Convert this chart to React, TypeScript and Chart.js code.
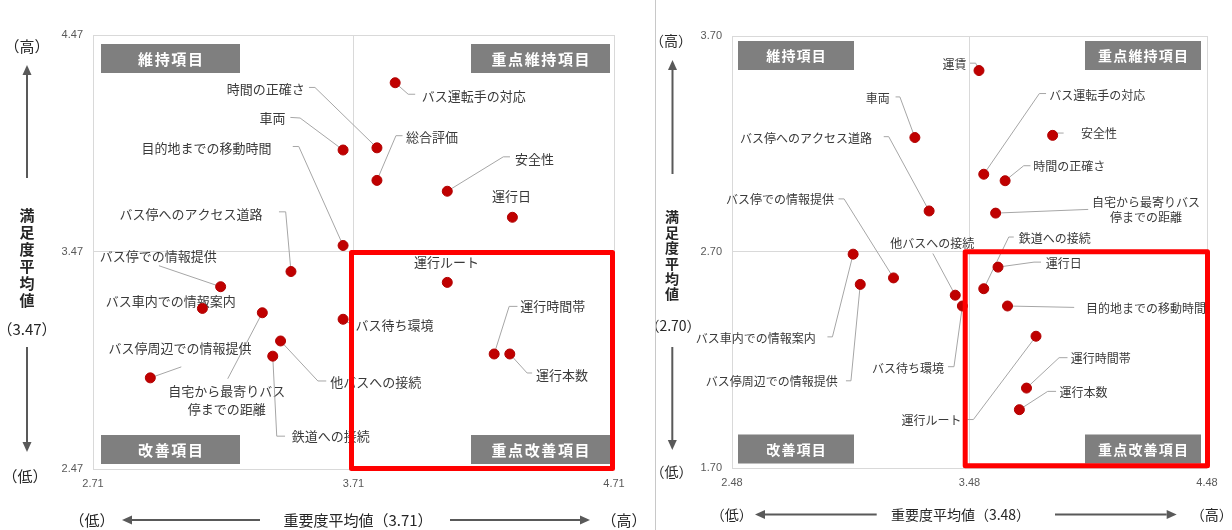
import { useEffect, useRef } from 'react';
import { Chart, registerables } from 'chart.js';

Chart.register(...registerables);

// ---------------- Data: left chart ----------------
const leftItems = [
  'バス運転手の対応', '時間の正確さ', '車両', '目的地までの移動時間', 'バス停へのアクセス道路',
  'バス停での情報提供', 'バス車内での情報案内', '自宅から最寄りバス停までの距離', '他バスへの接続',
  '鉄道への接続', 'バス停周辺での情報提供', '総合評価', '安全性', '運行日', '運行ルート',
  'バス待ち環境', '運行時間帯', '運行本数',
];
const leftImportance = [3.87, 3.80, 3.67, 3.67, 3.47, 3.20, 3.13, 3.36, 3.43, 3.40, 2.93, 3.80, 4.07, 4.32, 4.07, 3.67, 4.25, 4.31];
const leftSatisfaction = [4.25, 3.95, 3.94, 3.50, 3.38, 3.31, 3.21, 3.19, 3.06, 2.99, 2.89, 3.80, 3.75, 3.63, 3.33, 3.16, 3.00, 3.00];
const leftXTicks = [2.71, 3.71, 4.71];
const leftYTicks = [2.47, 3.47, 4.47];

// ---------------- Data: right chart ----------------
const rightItems = [
  '運賃', '車両', 'バス停へのアクセス道路', 'バス停での情報提供', '他バスへの接続',
  'バス車内での情報案内', 'バス停周辺での情報提供', 'バス待ち環境', '運行ルート', 'バス運転手の対応',
  '安全性', '時間の正確さ', '自宅から最寄りバス停までの距離', '鉄道への接続', '運行日',
  '目的地までの移動時間', '運行時間帯', '運行本数',
];
const rightImportance = [3.52, 3.25, 3.31, 3.16, 3.42, 2.99, 3.02, 3.45, 3.76, 3.54, 3.83, 3.63, 3.59, 3.54, 3.60, 3.64, 3.72, 3.69];
const rightSatisfaction = [3.54, 3.23, 2.89, 2.58, 2.50, 2.69, 2.55, 2.45, 2.31, 3.06, 3.24, 3.03, 2.88, 2.53, 2.63, 2.45, 2.07, 1.97];
const rightXTicks = [2.48, 3.48, 4.48];
const rightYTicks = [1.70, 2.70, 3.70];

const quadrantNames = ['維持項目', '重点維持項目', '改善項目', '重点改善項目'];
const axisTitleX = '重要度平均値';
const axisTitleY = '満足度平均値';
const highText = '（高）';
const lowText = '（低）';

// ---------------- Label layout (pixel offsets from each point) ----------------
type LabelLayout = { dx: number; dy: number; align: CanvasTextAlign; path: number[][]; wrap?: number };

const leftLabelLayout: LabelLayout[] = [
  { dx: 26.5, dy: 13.3, align: 'left', path: [[20, 11.5], [13, 11.5]] },
  { dx: -72.3, dy: -58.7, align: 'right', path: [[-68, -60.4], [-62, -60.4]] },
  { dx: -57.7, dy: -31.6, align: 'right', path: [[-52.7, -32.6], [-43, -32]] },
  { dx: -71.6, dy: -97.4, align: 'right', path: [[-50.3, -99], [-44.3, -99]] },
  { dx: -28.6, dy: -57.4, align: 'right', path: [[-12, -59.7], [-5.3, -59.7]] },
  { dx: -121, dy: -31, align: 'left', path: [[-61.7, -21]] },
  { dx: -96.6, dy: -7, align: 'left', path: [] },
  { dx: -35.6, dy: 78.4, align: 'center', path: [[-34.6, 66]], wrap: 9 },
  { dx: 49.7, dy: 40.6, align: 'left', path: [[45.7, 40], [37.3, 40]] },
  { dx: 19, dy: 80, align: 'left', path: [[12.3, 80], [4, 80]] },
  { dx: -41.7, dy: -29.3, align: 'left', path: [[31, -11]] },
  { dx: 29, dy: -43.4, align: 'left', path: [[25.6, -44.7], [19, -44.7]] },
  { dx: 67.7, dy: -32.4, align: 'left', path: [[62.7, -34.4], [56, -34.4]] },
  { dx: -0.8, dy: -21, align: 'center', path: [] },
  { dx: -0.7, dy: -20, align: 'center', path: [] },
  { dx: 12.3, dy: 6, align: 'left', path: [[9, 4], [4, 3]] },
  { dx: 26, dy: -47.6, align: 'left', path: [[23.3, -47.6], [15, -47.6]] },
  { dx: 26.3, dy: 20.7, align: 'left', path: [[22.3, 19], [17.3, 19]] },
];

const rightLabelLayout: LabelLayout[] = [
  { dx: -12.6, dy: -5.7, align: 'right', path: [[-9, -7.4], [-3.3, -7.4]] },
  { dx: -25, dy: -39, align: 'right', path: [[-19.3, -40.6], [-15, -40.6]] },
  { dx: -57, dy: -73, align: 'right', path: [[-45.4, -74.3], [-40.4, -74.3]] },
  { dx: -59.4, dy: -78.3, align: 'right', path: [[-55, -79], [-49.4, -79]] },
  { dx: -65, dy: -51.7, align: 'left', path: [[-22.4, -41.7]] },
  { dx: -37.3, dy: 84.3, align: 'right', path: [[-25.7, 82.7], [-20.7, 82.7]] },
  { dx: -22.6, dy: 97.4, align: 'right', path: [[-14.3, 96.4], [-9.3, 96.4]] },
  { dx: -18.4, dy: 62.3, align: 'right', path: [[-14.4, 60.7], [-8.4, 60.7]] },
  { dx: -74.6, dy: 84, align: 'right', path: [[-68.6, 83.3], [-62.6, 83.3]] },
  { dx: 65.6, dy: -79, align: 'left', path: [[62.3, -80.7], [55.6, -80.7]] },
  { dx: 28.4, dy: -1.7, align: 'left', path: [[11, -2.3], [4.4, -2.3]] },
  { dx: 28, dy: -14, align: 'left', path: [[25.3, -15], [18.6, -15]] },
  { dx: 150.3, dy: -11, align: 'center', path: [[92.6, -3.7]], wrap: 9 },
  { dx: 35, dy: -50.7, align: 'left', path: [[30, -51.7], [25, -51.7]] },
  { dx: 47.7, dy: -3.7, align: 'left', path: [[43, -5], [36, -5]] },
  { dx: 78.4, dy: 2, align: 'left', path: [[66.7, 1.4]] },
  { dx: 44.3, dy: -29.4, align: 'left', path: [[41, -30.4], [32.6, -30.4]] },
  { dx: 40, dy: -17.3, align: 'left', path: [[36.7, -18.3], [28.3, -18.3]] },
];

// ---------------- Styles / layout ----------------
const CJK = '"Noto Sans CJK JP", "Noto Sans", sans-serif';
const NUM = '"Liberation Sans", Arial, sans-serif';
const POINT_COLOR = '#c00000';
const LEADER_COLOR = '#a6a6a6';
const LABEL_COLOR = '#3a3a3a';
const GRID_COLOR = '#d9d9d9';
const BOX_COLOR = '#7f7f7f';
const TITLE_COLOR = '#262626';
const ARROW_COLOR = '#595959';

type ChartCfg = {
  items: string[];
  xs: number[];
  ys: number[];
  xTicks: number[];
  yTicks: number[];
  layout: LabelLayout[];
  width: number;
  height: number;
  left: number;
  padding: { left: number; right: number; top: number; bottom: number };
  labelSize: number;
  lineGap: number;
  box: { w: number; h: number; inL: number; inR: number; inT: number; inB: number; font: number; spacing: number };
  red: { l: number; r: number; t: number; b: number };
  t: {
    size: number; vsize: number;
    yHigh: number[]; yArrowUp: number[]; vTitle: number[]; yMean: number[]; yArrowDown: number[]; yLow: number[];
    xLow: number[]; xArrowLeft: number[]; xTitle: number[]; xArrowRight: number[]; xHigh: number[];
  };
};

const leftCfg: ChartCfg = {
  items: leftItems, xs: leftImportance, ys: leftSatisfaction, xTicks: leftXTicks, yTicks: leftYTicks,
  layout: leftLabelLayout, width: 650, height: 530, left: 0,
  padding: { left: 53, right: 36, top: 35, bottom: 31 },
  labelSize: 13, lineGap: 17.6,
  box: { w: 139, h: 29, inL: 8, inR: 4, inT: 9, inB: 5, font: 15, spacing: 1.6 },
  red: { l: -2, r: -1.5, t: 0.5, b: -0.5 },
  t: {
    size: 15, vsize: 15,
    yHigh: [27, 46], yArrowUp: [27, 178, 65], vTitle: [27, 215, 17], yMean: [27, 329], yArrowDown: [27, 347, 452], yLow: [25, 476],
    xLow: [92, 520], xArrowLeft: [260, 122, 520], xTitle: [358, 520], xArrowRight: [450, 590, 520], xHigh: [624, 520],
  },
};

const rightCfg: ChartCfg = {
  items: rightItems, xs: rightImportance, ys: rightSatisfaction, xTicks: rightXTicks, yTicks: rightYTicks,
  layout: rightLabelLayout, width: 576, height: 530, left: 656,
  padding: { left: 36, right: 25, top: 36, bottom: 32 },
  labelSize: 12, lineGap: 15.6,
  box: { w: 116, h: 29, inL: 6, inR: 6, inT: 5, inB: 4.5, font: 14, spacing: 1.2 },
  red: { l: -4.3, r: 0.5, t: -0.2, b: -2.2 },
  t: {
    size: 14, vsize: 14,
    yHigh: [15, 41], yArrowUp: [16.5, 174, 60], vTitle: [16, 217, 15.4], yMean: [17, 326], yArrowDown: [16.3, 347, 450], yLow: [15.5, 472],
    xLow: [75.7, 514.5], xArrowLeft: [220.7, 99, 514.5], xTitle: [304.5, 514.5], xArrowRight: [399, 520.7, 514.5], xHigh: [555.7, 514.5],
  },
};

function drawArrow(ctx: CanvasRenderingContext2D, x1: number, y1: number, x2: number, y2: number) {
  const ang = Math.atan2(y2 - y1, x2 - x1);
  const hl = 10, hw = 4.5;
  const c = Math.cos(ang), s = Math.sin(ang);
  ctx.save();
  ctx.strokeStyle = ARROW_COLOR;
  ctx.fillStyle = ARROW_COLOR;
  ctx.lineWidth = 2;
  ctx.beginPath();
  ctx.moveTo(x1, y1);
  ctx.lineTo(x2 - c * hl, y2 - s * hl);
  ctx.stroke();
  ctx.beginPath();
  ctx.moveTo(x2, y2);
  ctx.lineTo(x2 - c * hl - s * hw, y2 - s * hl + c * hw);
  ctx.lineTo(x2 - c * hl + s * hw, y2 - s * hl - c * hw);
  ctx.closePath();
  ctx.fill();
  ctx.restore();
}

function makePlugin(cfg: ChartCfg) {
  return {
    id: 'quadrantAnnotations',
    beforeDatasetsDraw(chart: any) {
      const ctx: CanvasRenderingContext2D = chart.ctx;
      const xs = chart.scales.x, ys = chart.scales.y;
      ctx.save();
      cfg.items.forEach((name, i) => {
        const px = xs.getPixelForValue(cfg.xs[i]);
        const py = ys.getPixelForValue(cfg.ys[i]);
        const L = cfg.layout[i];
        if (L.path.length) {
          ctx.beginPath();
          ctx.strokeStyle = LEADER_COLOR;
          ctx.lineWidth = 1;
          ctx.moveTo(px + L.path[0][0], py + L.path[0][1]);
          for (let k = 1; k < L.path.length; k++) ctx.lineTo(px + L.path[k][0], py + L.path[k][1]);
          ctx.lineTo(px, py);
          ctx.stroke();
        }
        ctx.font = `${cfg.labelSize}px ${CJK}`;
        ctx.fillStyle = LABEL_COLOR;
        ctx.textAlign = L.align;
        ctx.textBaseline = 'middle';
        const lines = L.wrap ? [name.slice(0, L.wrap), name.slice(L.wrap)] : [name];
        lines.forEach((t, k) => ctx.fillText(t, px + L.dx, py + L.dy + k * cfg.lineGap));
      });
      ctx.restore();
    },
    afterDatasetsDraw(chart: any) {
      const ctx: CanvasRenderingContext2D = chart.ctx;
      const ca = chart.chartArea;
      const xs = chart.scales.x, ys = chart.scales.y;
      const xMid = xs.getPixelForValue(cfg.xTicks[1]);
      const yMid = ys.getPixelForValue(cfg.yTicks[1]);
      ctx.save();
      // quadrant boxes
      const b = cfg.box;
      const boxes = [
        [ca.left + b.inL, ca.top + b.inT],
        [ca.right - b.inR - b.w, ca.top + b.inT],
        [ca.left + b.inL, ca.bottom - b.inB - b.h],
        [ca.right - b.inR - b.w, ca.bottom - b.inB - b.h],
      ];
      boxes.forEach(([bx, by], i) => {
        ctx.fillStyle = BOX_COLOR;
        ctx.fillRect(bx, by, b.w, b.h);
        ctx.fillStyle = '#ffffff';
        ctx.font = `bold ${b.font}px ${CJK}`;
        (ctx as any).letterSpacing = `${b.spacing}px`;
        ctx.textAlign = 'center';
        ctx.textBaseline = 'middle';
        ctx.fillText(quadrantNames[i], bx + b.w / 2 + b.spacing / 2, by + b.h / 2 + 0.5);
        (ctx as any).letterSpacing = '0px';
      });
      // red highlight around the high-importance / low-satisfaction quadrant
      ctx.strokeStyle = '#ff0000';
      ctx.lineWidth = 5;
      ctx.lineJoin = 'round';
      const r = cfg.red;
      const x1 = xMid + r.l, x2 = ca.right + r.r, y1 = yMid + r.t, y2 = ca.bottom + r.b;
      ctx.strokeRect(x1, y1, x2 - x1, y2 - y1);
      ctx.restore();
    },
    afterDraw(chart: any) {
      const ctx: CanvasRenderingContext2D = chart.ctx;
      const t = cfg.t;
      ctx.save();
      ctx.fillStyle = TITLE_COLOR;
      ctx.textAlign = 'center';
      ctx.textBaseline = 'middle';
      ctx.font = `${t.size}px ${CJK}`;
      ctx.fillText(highText, t.yHigh[0], t.yHigh[1]);
      ctx.fillText(`（${cfg.yTicks[1].toFixed(2)}）`, t.yMean[0], t.yMean[1]);
      ctx.fillText(lowText, t.yLow[0], t.yLow[1]);
      ctx.fillText(lowText, t.xLow[0], t.xLow[1]);
      ctx.fillText(`${axisTitleX}（${cfg.xTicks[1].toFixed(2)}）`, t.xTitle[0], t.xTitle[1]);
      ctx.fillText(highText, t.xHigh[0], t.xHigh[1]);
      ctx.font = `bold ${t.vsize}px ${CJK}`;
      Array.from(axisTitleY).forEach((ch, k) => ctx.fillText(ch, t.vTitle[0], t.vTitle[1] + k * t.vTitle[2]));
      drawArrow(ctx, t.yArrowUp[0], t.yArrowUp[1], t.yArrowUp[0], t.yArrowUp[2]);
      drawArrow(ctx, t.yArrowDown[0], t.yArrowDown[1], t.yArrowDown[0], t.yArrowDown[2]);
      drawArrow(ctx, t.xArrowLeft[0], t.xArrowLeft[2], t.xArrowLeft[1], t.xArrowLeft[2]);
      drawArrow(ctx, t.xArrowRight[0], t.xArrowRight[2], t.xArrowRight[1], t.xArrowRight[2]);
      ctx.restore();
    },
  };
}

function QuadrantChart({ cfg }: { cfg: ChartCfg }) {
  const ref = useRef<HTMLCanvasElement | null>(null);
  useEffect(() => {
    if (!ref.current) return;
    const tickFont = { family: NUM, size: 11 };
    const chart = new Chart(ref.current, {
      type: 'scatter',
      data: {
        datasets: [
          {
            data: cfg.xs.map((x, i) => ({ x, y: cfg.ys[i] })),
            pointRadius: 5,
            pointHoverRadius: 5,
            pointBackgroundColor: POINT_COLOR,
            pointBorderColor: '#b00000',
            pointBorderWidth: 1,
          },
        ],
      },
      options: {
        responsive: false,
        animation: false,
        events: [],
        layout: { padding: cfg.padding },
        plugins: { legend: { display: false }, tooltip: { enabled: false } },
        scales: {
          x: {
            type: 'linear',
            min: cfg.xTicks[0],
            max: cfg.xTicks[2],
            afterBuildTicks: (s: any) => { s.ticks = cfg.xTicks.map((v) => ({ value: v })); },
            afterFit: (s: any) => { s.height = 30; },
            ticks: { callback: (v: any) => Number(v).toFixed(2), font: tickFont, color: '#595959', padding: 8, maxRotation: 0, autoSkip: false },
            grid: { color: GRID_COLOR, drawTicks: false, lineWidth: 1 },
            border: { display: false },
          },
          y: {
            type: 'linear',
            min: cfg.yTicks[0],
            max: cfg.yTicks[2],
            afterBuildTicks: (s: any) => { s.ticks = cfg.yTicks.map((v) => ({ value: v })); },
            afterFit: (s: any) => { s.width = 40; },
            ticks: { callback: (v: any) => Number(v).toFixed(2), font: tickFont, color: '#595959', padding: 10, autoSkip: false },
            grid: { color: GRID_COLOR, drawTicks: false, lineWidth: 1 },
            border: { display: false },
          },
        },
      },
      plugins: [makePlugin(cfg)],
    } as any);
    return () => chart.destroy();
  }, [cfg]);
  return (
    <canvas
      ref={ref}
      width={cfg.width}
      height={cfg.height}
      style={{ position: 'absolute', left: cfg.left, top: 0, width: cfg.width, height: cfg.height }}
    />
  );
}

export default function App() {
  return (
    <div style={{ position: 'fixed', left: 0, top: 0, width: 1232, height: 530, background: '#ffffff', overflow: 'hidden' }}>
      <QuadrantChart cfg={leftCfg} />
      <div style={{ position: 'absolute', left: 655, top: 0, width: 1, height: 530, background: '#c8c8c8' }} />
      <QuadrantChart cfg={rightCfg} />
    </div>
  );
}
